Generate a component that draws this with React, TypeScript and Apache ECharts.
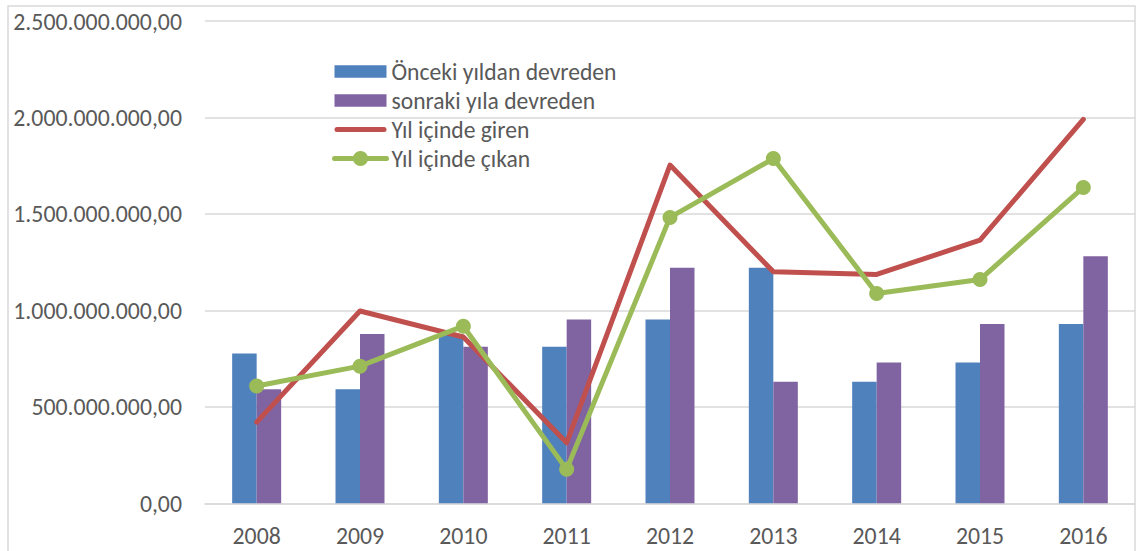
import React, { useEffect, useRef } from "react";
import * as echarts from "echarts";

const years = ["2008", "2009", "2010", "2011", "2012", "2013", "2014", "2015", "2016"];
const oncekiYildan = [777e6, 591e6, 877e6, 811e6, 953e6, 1221e6, 630e6, 730e6, 930e6];
const sonrakiYila = [591e6, 877e6, 811e6, 953e6, 1221e6, 630e6, 730e6, 930e6, 1281e6];
const yilIcindeGiren = [421e6, 997e6, 862e6, 314e6, 1753e6, 1200e6, 1186e6, 1364e6, 1990e6];
const yilIcindeCikan = [608e6, 711e6, 918e6, 176e6, 1482e6, 1787e6, 1088e6, 1160e6, 1637e6];

const FONT = "Carlito, Calibri, Lato, 'Noto Sans', sans-serif";
const TXT = "#595959";

const BAR_ICON = "path://M0,0L52,0L52,12.5L0,12.5Z";
const LINE_ICON = "path://M2.5,0L49.5,0A2.5,2.5,0,0,1,49.5,5L2.5,5A2.5,2.5,0,0,1,2.5,0Z";

function fmt(v: number): string {
  return Math.round(v).toString().replace(/\B(?=(\d{3})+(?!\d))/g, ".") + ",00";
}

export default function App() {
  const ref = useRef<HTMLDivElement>(null);
  useEffect(() => {
    document.body.style.margin = "0";
    const chart = echarts.init(ref.current!, null, { renderer: "svg" });
    chart.setOption({
      animation: false,
      backgroundColor: "#ffffff",
      textStyle: { fontFamily: FONT },
      graphic: [
        {
          type: "rect",
          shape: { x: 8, y: 6, width: 1127, height: 600 },
          style: { fill: "none", stroke: "#D9D9D9", lineWidth: 1.5 },
          silent: true,
          z: -1,
        },
      ],
      grid: { left: 205, right: 3, top: 21, bottom: 47.7, containLabel: false },
      legend: {
        orient: "vertical",
        left: 332,
        top: 59,
        padding: 0,
        itemWidth: 52,
        itemHeight: 19,
        itemGap: 4,
        symbolKeepAspect: true,
        lineStyle: { width: 5, cap: "round" },
        textStyle: { color: TXT, fontSize: 23.6, fontFamily: FONT, lineHeight: 25 },
        data: [
          { name: "Önceki yıldan devreden", icon: BAR_ICON },
          { name: "sonraki yıla devreden", icon: BAR_ICON },
          { name: "Yıl içinde giren", icon: LINE_ICON },
          { name: "Yıl içinde çıkan" },
        ],
      },
      xAxis: {
        type: "category",
        data: years,
        axisLine: { lineStyle: { color: "#D9D9D9", width: 1.5 } },
        axisTick: { show: false },
        axisLabel: { color: TXT, fontSize: 23.8, margin: 20, fontFamily: FONT },
      },
      yAxis: {
        type: "value",
        min: 0,
        max: 2.5e9,
        interval: 5e8,
        axisLine: { show: false },
        axisTick: { show: false },
        splitLine: { lineStyle: { color: "#D9D9D9", width: 1.5 } },
        axisLabel: { color: TXT, fontSize: 23.8, margin: 23, fontFamily: FONT, formatter: fmt },
      },
      series: [
        {
          name: "Önceki yıldan devreden",
          type: "bar",
          data: oncekiYildan,
          barWidth: 24.5,
          barGap: "0%",
          itemStyle: { color: "#4F81BD" },
        },
        {
          name: "sonraki yıla devreden",
          type: "bar",
          data: sonrakiYila,
          barWidth: 24.5,
          barGap: "0%",
          itemStyle: { color: "#8064A2" },
        },
        {
          name: "Yıl içinde giren",
          type: "line",
          data: yilIcindeGiren,
          symbol: "none",
          showSymbol: false,
          lineStyle: { color: "#C0504D", width: 5, cap: "round", join: "round" },
          itemStyle: { color: "#C0504D" },
        },
        {
          name: "Yıl içinde çıkan",
          type: "line",
          data: yilIcindeCikan,
          symbol: "circle",
          symbolSize: 15,
          lineStyle: { color: "#9BBB59", width: 5, cap: "round", join: "round" },
          itemStyle: { color: "#9BBB59" },
        },
      ],
    });
    return () => chart.dispose();
  }, []);
  return (
    <div
      ref={ref}
      style={{ position: "absolute", left: 0, top: 0, width: 1138, height: 551 }}
    />
  );
}
